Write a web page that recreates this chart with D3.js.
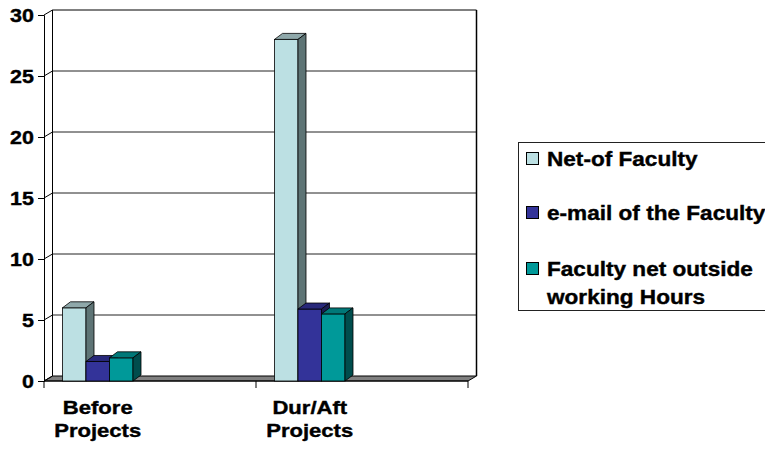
<!DOCTYPE html>
<html>
<head>
<meta charset="utf-8">
<script src="https://cdn.jsdelivr.net/npm/d3@7"></script>
<style>
  html, body { margin: 0; padding: 0; background: #fff; }
  svg { display: block; }
  text { font-family: "Liberation Sans", Arial, sans-serif; font-weight: bold; fill: #000; stroke: #000; stroke-width: 0.4px; }
</style>
</head>
<body>
<svg id="chart" width="765" height="451"></svg>
<script>
// Survey counts per period
const categories = ["Before Projects", "Dur/Aft Projects"];
const categoryLines = [["Before", "Projects"], ["Dur/Aft", "Projects"]];
const seriesNames = ["Net-of Faculty", "e-mail of the Faculty", "Faculty net outside working Hours"];
const legendLines = [["Net-of Faculty"], ["e-mail of the Faculty"], ["Faculty net outside", "working Hours"]];
const netOfFaculty = [6, 28];
const emailOfFaculty = [1.6, 5.9];
const netOutsideHours = [1.9, 5.5];
const yTicks = [0, 5, 10, 15, 20, 25, 30];

// Face colours per series: front, top, side
const faceColors = [
  { front: "#BCE0E3", top: "#8FA8AA", side: "#5E7475" },
  { front: "#333399", top: "#28287A", side: "#1C1C52" },
  { front: "#009999", top: "#007878", side: "#004D4D" }
];

const seriesValues = [netOfFaculty, emailOfFaculty, netOutsideHours];

const svg = d3.select("#chart");

// Scales
const y = d3.scaleLinear().domain([0, 30]).range([381, 15]);
const x0 = d3.scaleBand().domain(categories).range([44, 468]);
const x1 = d3.scaleBand().domain(seriesNames).range([18.5, 89]);

// Depth offsets for the 3-D look
const wallDx = 8.5, wallDy = -5;
const barDx = 8, barDy = -6;

const xL = x0.range()[0], xR = x0.range()[1];
const yBase = y(0), yTop = y(30);

// Floor
svg.append("polygon")
  .attr("points", [[xL, yBase], [xR, yBase], [xR + wallDx, yBase + wallDy], [xL + wallDx, yBase + wallDy]].map(p => p.join(",")).join(" "))
  .attr("fill", "#808080")
  .attr("stroke", "#000")
  .attr("stroke-width", 1);

// Back wall gridlines and side-wall diagonals
const grid = svg.append("g");
yTicks.forEach(v => {
  const yy = y(v);
  if (v > 0) {
    grid.append("line")
      .attr("x1", xL + wallDx).attr("x2", xR + wallDx)
      .attr("y1", yy + wallDy).attr("y2", yy + wallDy)
      .attr("stroke", v === 30 ? "#000" : "#222").attr("stroke-width", 1);
  }
  grid.append("line")
    .attr("x1", xL).attr("y1", yy)
    .attr("x2", xL + wallDx).attr("y2", yy + wallDy)
    .attr("stroke", "#000").attr("stroke-width", 1);
});
// Wall edges
grid.append("line")
  .attr("x1", xL + wallDx).attr("x2", xL + wallDx)
  .attr("y1", yTop + wallDy).attr("y2", yBase + wallDy)
  .attr("stroke", "#000");
grid.append("line")
  .attr("x1", xR + wallDx).attr("x2", xR + wallDx)
  .attr("y1", yTop + wallDy).attr("y2", yBase + wallDy)
  .attr("stroke", "#000").attr("stroke-width", 1.5);

// Y axis
const yAxis = d3.axisLeft(y).tickValues(yTicks).tickSize(6).tickPadding(4).tickFormat(d3.format("d"));
const yg = svg.append("g").attr("transform", `translate(${xL},0)`).call(yAxis);
yg.select(".domain").attr("stroke", "#000");
yg.selectAll(".tick line").attr("stroke", "#000");
yg.selectAll(".tick text")
  .style("font-size", "19px")
  .attr("text-anchor", "end")
  .attr("x", 0)
  .attr("dy", "0.36em")
  .attr("transform", "translate(-10,0) scale(1.13,1)");

// X axis (baseline with separator ticks)
const xg = svg.append("g");
xg.append("line")
  .attr("x1", xL).attr("x2", xR)
  .attr("y1", yBase).attr("y2", yBase)
  .attr("stroke", "#000");
const sepTicks = categories.map(c => x0(c)).concat([xR]);
xg.selectAll("line.sep").data(sepTicks).join("line")
  .attr("class", "sep")
  .attr("x1", d => d).attr("x2", d => d)
  .attr("y1", yBase).attr("y2", yBase + 7)
  .attr("stroke", "#000");

// Bars
const bars = svg.append("g");
categories.forEach((cat, ci) => {
  seriesNames.forEach((s, si) => {
    const v = seriesValues[si][ci];
    const bx = x0(cat) + x1(s);
    const bw = x1.bandwidth();
    const yv = y(v);
    const c = faceColors[si];
    const g = bars.append("g");
    g.append("rect")
      .attr("x", bx).attr("y", yv)
      .attr("width", bw).attr("height", yBase - yv)
      .attr("fill", c.front).attr("stroke", "#000").attr("stroke-width", 0.8);
    g.append("polygon")
      .attr("points", [[bx, yv], [bx + barDx, yv + barDy], [bx + bw + barDx, yv + barDy], [bx + bw, yv]].map(p => p.join(",")).join(" "))
      .attr("fill", c.top).attr("stroke", "#000").attr("stroke-width", 0.8);
    g.append("polygon")
      .attr("points", [[bx + bw, yv], [bx + bw + barDx, yv + barDy], [bx + bw + barDx, yBase + barDy], [bx + bw, yBase]].map(p => p.join(",")).join(" "))
      .attr("fill", c.side).attr("stroke", "#000").attr("stroke-width", 0.8);
  });
});

// Category labels
categories.forEach((cat, ci) => {
  const cx = x0(cat) + (x1.range()[0] + x1.range()[1]) / 2;
  categoryLines[ci].forEach((line, li) => {
    svg.append("text")
      .attr("text-anchor", "middle")
      .style("font-size", "19px")
      .attr("transform", `translate(${cx},${414 + li * 23}) scale(1.16,1)`)
      .text(line);
  });
});

// Legend
const lg = svg.append("g");
lg.append("rect")
  .attr("x", 518.5).attr("y", 142.5)
  .attr("width", 270).attr("height", 168)
  .attr("fill", "#fff").attr("stroke", "#222").attr("stroke-width", 1);
const legendY = [152, 206, 262];
seriesNames.forEach((s, si) => {
  lg.append("rect")
    .attr("x", 526.5).attr("y", legendY[si] + 0.5)
    .attr("width", 12).attr("height", 12)
    .attr("fill", faceColors[si].front)
    .attr("stroke", "#000").attr("stroke-width", 1);
  legendLines[si].forEach((line, li) => {
    lg.append("text")
      .style("font-size", "20px")
      .attr("transform", `translate(547,${legendY[si] + 14 + li * 28}) scale(1.13,1)`)
      .text(line);
  });
});
</script>
</body>
</html>
